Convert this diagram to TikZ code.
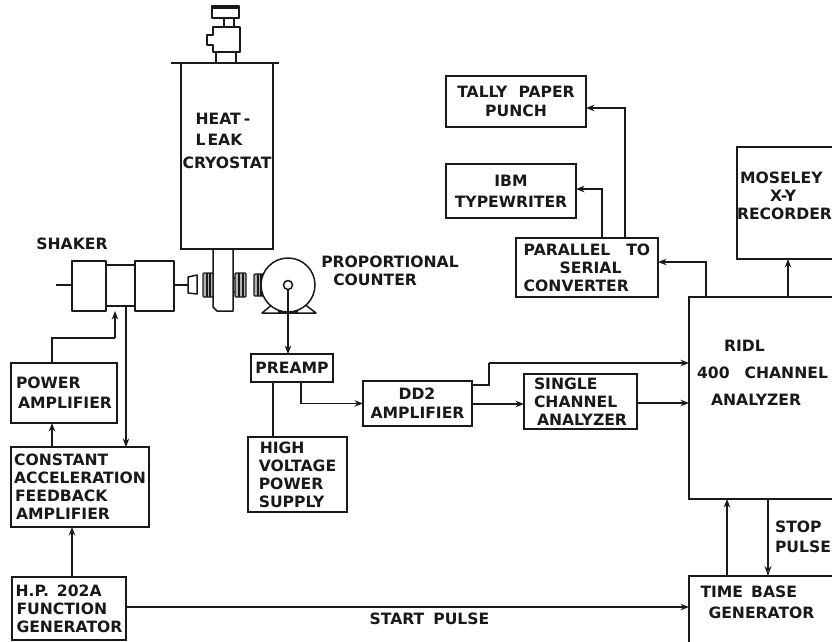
\documentclass[tikz,border=0pt]{standalone}
\usepackage{fontspec}
\setmainfont{DejaVu Sans}
\usetikzlibrary{arrows.meta}
\newcommand{\wsp}[1]{\hspace*{#1pt}}
\tikzset{
  x=1pt,y=-1pt,
  every node/.style={font=\bfseries\fontsize{15.6}{18}\selectfont,inner sep=0pt,outer sep=0pt,text=black!90},
  wire/.style={line width=1.5pt,black!90,line join=miter},
  arr/.style={wire,-{Stealth[length=8.5pt,width=6.5pt]}},
  openarr/.style={line width=1.1pt,black!90,-{Stealth[length=10pt,width=7pt,open,fill=white]}},
  box/.style={draw=black!90,line width=1.5pt,align=left},
  part/.style={draw=black!90,line width=1.5pt,line join=round},
  flange/.style={draw=black!90,line width=1.2pt,fill=black!30,rounded corners=1pt},
  stripe/.style={line width=1.2pt,black!90},
}
\begin{document}
\begin{tikzpicture}
\path[use as bounding box] (0,0) rectangle (832,641);
\clip (0,0) rectangle (832,641);
\fill[white] (0,0) rectangle (832,641);
% cryostat
\node[box,minimum width=92pt,minimum height=186pt] (cryo) at (227,156) {};
\node[align=left] (cryotext) at (227,141) {\wsp{13}HEAT\wsp{3}-\\[3pt]\wsp{13}L\wsp{2}EAK\\[5pt]CRYOSTAT};
\draw[line width=2.2pt,black!90] (171,63) -- (279,63);
\draw[part] (216,63) -- (216,52) (236,63) -- (236,52);
\draw[part] (213,52) -- (213,45) -- (207,45) -- (207,35) -- (213,35) -- (213,27) -- (240,27) -- (240,52) -- cycle;
\draw[part] (224,27) -- (224,18) (234,27) -- (234,18);
\draw[part] (212,6) rectangle (239,18);
\fill[black!90] (212,6) rectangle (239,9);
\draw[part] (213,249) -- (213,307) to[out=90,in=180,looseness=0] (217,311) -- (233,311) -- (233,249);
% flanges
\draw[flange] (203,273) rectangle (213,297);
\draw[stripe] (207,273) -- (207,297) (210,273) -- (210,297);
\draw[flange] (235,273) rectangle (246,297);
\draw[stripe] (239,273) -- (239,297) (243,273) -- (243,297);
\draw[part] (233,278) -- (235,278) (233,292) -- (235,292);
\draw[flange] (254,274) rectangle (264,296);
\draw[stripe] (258,274) -- (258,296) (261,274) -- (261,296);
% shaker
\draw[part] (56,285) -- (72,285);
\draw[part] (72,261) rectangle (106,311);
\draw[part] (106,265) rectangle (135,306);
\draw[part] (135,261) rectangle (174,311);
\draw[part] (174,285) -- (188,285);
\draw[part] (188,277) -- (197,275) -- (197,294) -- (188,293) -- cycle;
% counter
\draw[part] (274,303) -- (262,313) -- (316,313) -- (303,303);
\draw[part,fill=white] (288,285) circle (27);
\draw[line width=3pt,black!90] (278,312) -- (298,312);
\node[draw=black!90,line width=1.5pt,circle,minimum size=9pt,fill=white] (anode) at (288,285) {};
\node (shaker) at (72,244) {SHAKER};
\node[align=left] (prop) at (390,271) {PROPORTIONAL\\\wsp{12}COUNTER};
% left chain
\node[box,minimum width=106pt,minimum height=60pt] (power) at (64,393) {POWER\\[2pt]\wsp{2}AMPLIFIER};
\node[box,minimum width=138pt,minimum height=80pt] (const) at (80,487) {CONSTANT\\ACCELERATION\\\wsp{1}FEEDBACK\\\wsp{2}AMPLIFIER};
\node[box,minimum width=114pt,minimum height=63pt] (hp) at (69,608.5) {H.P.\wsp{8}202A\\\wsp{1}FUNCTION\\\wsp{1}GENERATOR};
\coordinate (shk) at (115,311);
\draw[wire] (power.north -| 52,0) -- (52,338) -- (115,338) coordinate (bend);
\draw[arr] (bend) -- (shk);
\draw[arr] (126,306) -- (const.north -| 126,0);
\draw[arr] (const.north -| 52,0) -- (power.south -| 52,0);
\draw[arr] (hp.north -| 72,0) -- (const.south -| 72,0);
% preamp
\node[box,minimum width=82pt,minimum height=28pt] (pre) at (292,368) {PREAMP};
\node[box,minimum width=99pt,minimum height=75pt] (hv) at (297.5,474.5) {\wsp{1}HIGH\\VOLTAGE\wsp{9}\\POWER\\SUPPLY};
\node[box,minimum width=109pt,minimum height=45pt] (dd) at (417.5,403.5) {\wsp{28}DD2\\[1pt]AMPLIFIER};
\node[box,minimum width=113pt,minimum height=55pt] (sca) at (580.5,401.5) {SINGLE\\CHANNEL\\\wsp{3}ANALYZER};
\draw[arr] (anode.south) -- (pre.north -| anode.south);
\draw[wire] (pre.south -| 273,0) -- (hv.north -| 273,0);
\draw[arr] (pre.south -| 301,0) |- (dd.west);
% right side
\node[box,minimum width=160pt,minimum height=202pt] (ridl) at (769,398) {};
\node[align=left] (ridltext) at (762.5,373) {\wsp{27}RIDL\\[9pt]400\wsp{15}CHANNEL\\[9pt]\wsp{14}ANALYZER};
\node[box,minimum width=120pt,minimum height=112pt] (mos) at (797,203) {};
\node[align=left] (mostext) at (784.5,196) {\wsp{3}MOSELEY\\\wsp{33}X-Y\\RECORDER};
\node[box,minimum width=160pt,minimum height=70pt] (tb) at (769,611) {};
\node[align=left] (tbtext) at (757.5,602) {TIME\wsp{8}BASE\\[3pt]\wsp{8}GENERATOR};
\node[box,minimum width=142pt,minimum height=59pt] (par) at (587,267.5) {PARALLEL\wsp{16}TO\\\wsp{36}SERIAL\\CONVERTER};
\node[box,minimum width=140pt,minimum height=51pt,align=center] (tally) at (516,101.5) {TALLY\wsp{11}PAPER\\[1pt]PUNCH};
\node[box,minimum width=130pt,minimum height=54pt,align=center] (ibm) at (511,191) {IBM\\[3pt]TYPEWRITER};
\draw[arr] (dd.east |- 0,404) -- (sca.west |- 0,404);
\draw[wire] (dd.east |- 0,385) -- (489,385) -- (489,363) coordinate (up);
\draw[arr] (up) -- (ridl.west |- up);
\draw[arr] (sca.east |- 0,403) -- (ridl.west |- 0,403);
\draw[arr] (ridl.north -| 706,0) |- (par.east |- 0,262);
\draw[arr] (ridl.north -| 788,0) -- (mos.south -| 788,0);
\draw[arr] (par.north -| 625,0) |- (tally.east |- 0,108);
\draw[arr] (par.north -| 602,0) |- (ibm.east |- 0,189);
\draw[arr] (tb.north -| 727,0) -- (ridl.south -| 727,0);
\draw[openarr] (ridl.south -| 768,0) -- (tb.north -| 768,0);
\draw[arr] (hp.east |- 0,607) -- (tb.west |- 0,607);
\node (start) at (429.5,619) {START\wsp{9}PULSE};
\node[align=left] (stop) at (803,536.5) {STOP\\[2pt]PULSE};
\end{tikzpicture}
\end{document}
